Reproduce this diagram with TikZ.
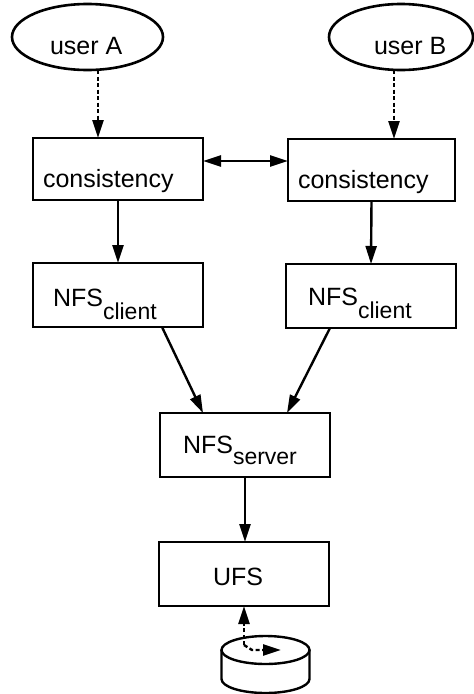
\documentclass[tikz,border=0pt]{standalone}
\usepackage{fontspec}
\setmainfont{Liberation Sans}
\usetikzlibrary{arrows.meta,shapes.geometric,calc}
\begin{document}
\begin{tikzpicture}[x=1pt,y=-1pt,
  every node/.style={inner sep=0pt, outer sep=0pt},
  box/.style={draw, line width=2.8pt, rectangle, minimum width=170pt, minimum height=64pt},
  usr/.style={draw, line width=2.6pt, ellipse, minimum height=66pt},
  txt/.style={font=\fontsize{25}{30}\selectfont, anchor=base west},
  arr/.style={line width=2.4pt, -{Triangle[length=18pt,width=11pt]}},
  darr/.style={arr, dash pattern=on 4pt off 2.5pt},
  dblarr/.style={line width=2.4pt, {Triangle[length=18pt,width=11pt]}-{Triangle[length=18pt,width=11pt]}},
  disk/.style={line width=2.4pt},
]
\fill[white] (0,0) rectangle (474,694);
\useasboundingbox (0,0) rectangle (474,694);
\newcommand{\subtxt}[2]{\raisebox{-#1pt}{\fontsize{23}{28}\selectfont #2}}

% users
\node[usr, minimum width=151pt] (userA) at (87.5,37) {};
\node[usr, minimum width=144pt] (userB) at (401,37) {};
\node[txt] (tuA) at (50,54) {user A};
\node[txt] (tuB) at (374,54) {user B};

% boxes
\node[box, minimum width=170pt, minimum height=62pt] (consA) at (118,169) {};
\node[box, minimum width=167pt, minimum height=62pt] (consB) at (371.5,170) {};
\node[box] (clientA) at (118,295) {};
\node[box] (clientB) at (371,296) {};
\node[box] (server) at (245,445) {};
\node[box] (ufs) at (244,574) {};

% texts
\node[txt] (tcA) at (43,187) {consistency};
\node[txt] (tcB) at (298,188) {consistency};
\node[txt] (tnA) at (53,306) {NFS\subtxt{13}{client}};
\node[txt] (tnB) at (308,305) {NFS\subtxt{13}{client}};
\node[txt] (tsv) at (183,453) {NFS\subtxt{11}{server}};
\node[txt] (tuf) at (213,585) {UFS};

% connectors
\draw[darr] ($(userA.south)+(10.5,0)$) -- ($(consA.north)+(-20,0)$);
\draw[darr] ($(userB.south)+(-7,0)$) -- ($(consB.north)+(22.5,0)$);
\draw[dblarr] ($(consA.east)+(0,-8)$) -- ($(consB.west)+(0,-9)$);
\draw[arr] (consA.south) -- (clientA.north);
\draw[arr] (consB.south) -- (clientB.north);
\draw[arr] ($(clientA.south)+(44,0)$) -- ($(server.north)+(-42,0)$);
\draw[arr] ($(clientB.south)+(-41,0)$) -- ($(server.north)+(42,0)$);
\draw[arr] (server.south) -- (server.south |- ufs.north);

% disk
\draw[disk] (265.5,650) ellipse [x radius=44, y radius=14];
\draw[disk] (221.5,650) -- (221.5,679) arc[start angle=180, end angle=0, x radius=44, y radius=14] -- (309.5,650);
\coordinate (dk) at (244,645);
\coordinate (hd) at (281,650);
\draw[darr] (dk) -- (dk |- ufs.south);
\draw[darr] (dk) -- (252,650) -- (hd);
\end{tikzpicture}
\end{document}
